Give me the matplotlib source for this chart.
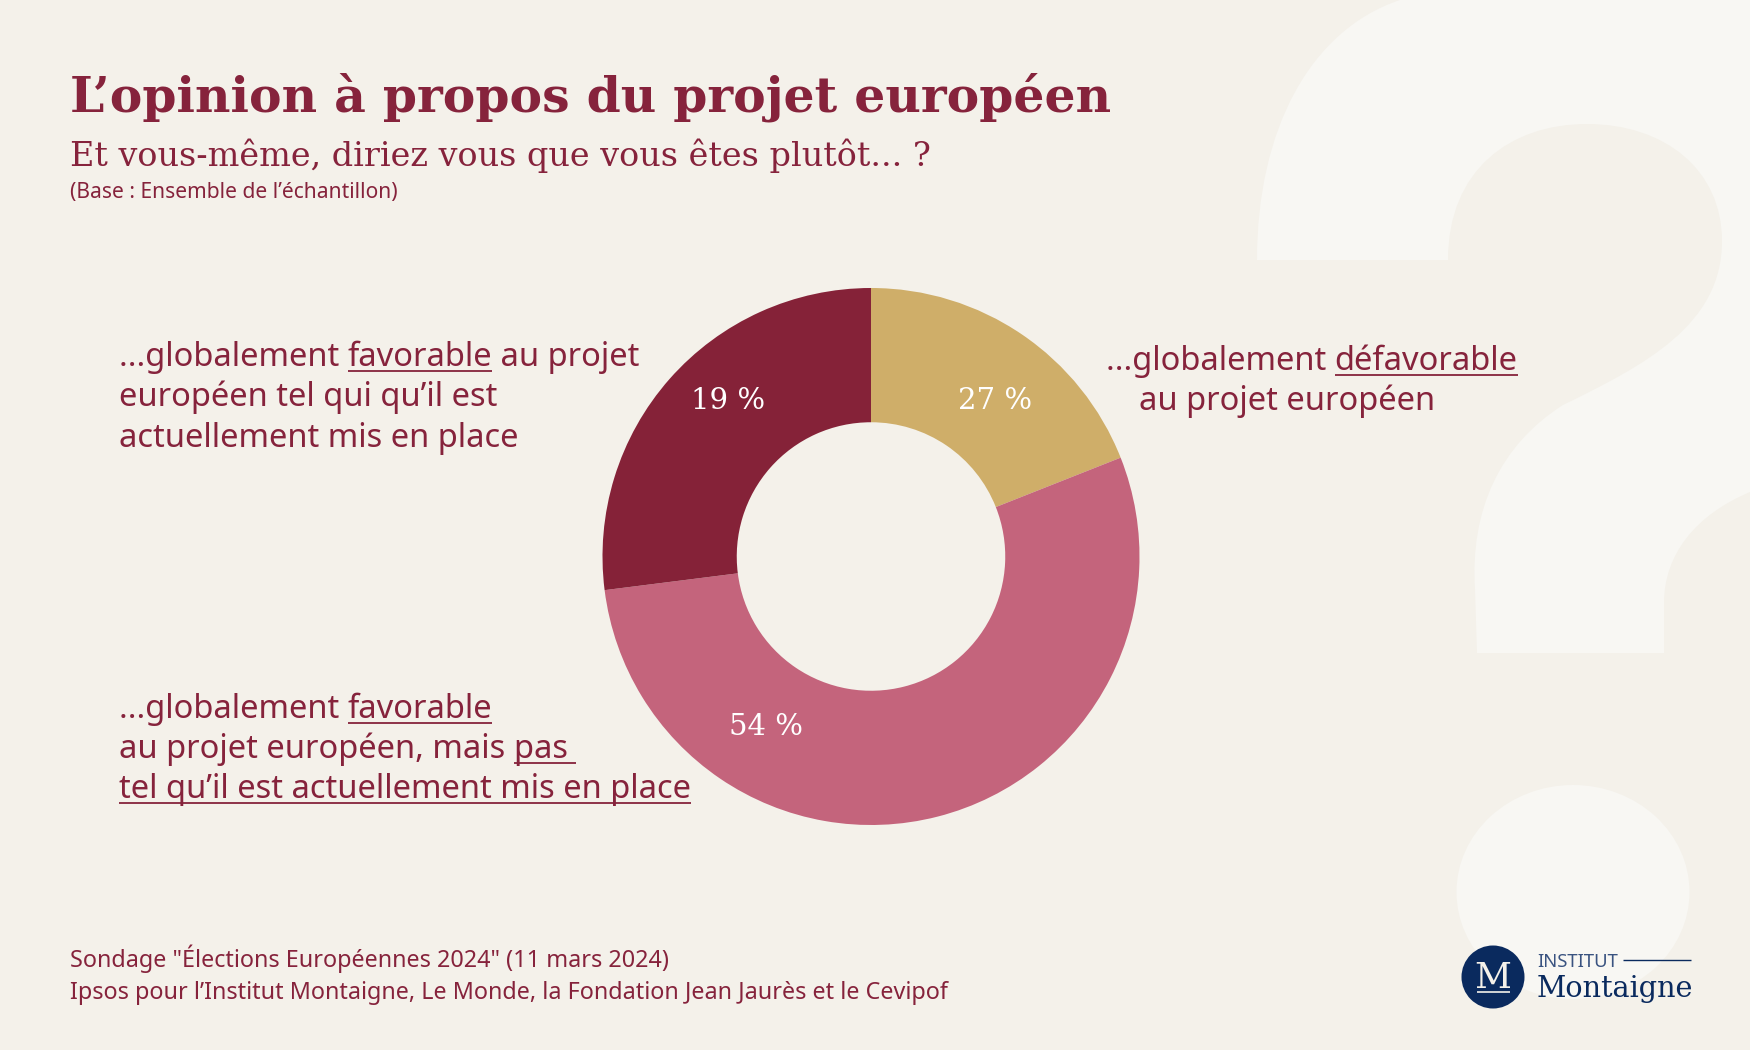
import matplotlib
matplotlib.use("Agg")
import matplotlib.pyplot as plt
from matplotlib.path import Path
from matplotlib.patches import PathPatch, Ellipse, Circle

# Data
opinions = ["favorable tel quel", "favorable mais pas tel quel", "defavorable"]
slice_values = [19, 54, 27]     # clockwise from 12 o'clock, as drawn in the source
slice_labels = ["27 %", "54 %", "19 %"]
slice_colors = ["#cfae69", "#c4647c", "#852238"]

BG = "#f4f1ea"
MARK = "#f8f7f3"
RED = "#86233c"
NAVY = "#0a2a5e"
SERIF = ["DejaVu Serif Condensed", "DejaVu Serif"]
SANS = ["Noto Sans", "DejaVu Sans"]

W, H = 1750, 1050
fig = plt.figure(figsize=(W / 100, H / 100), dpi=100, facecolor=BG)

# full figure axes in pixels for the decoration and the text
bg = fig.add_axes([0, 0, 1, 1])
bg.set_xlim(0, W)
bg.set_ylim(H, 0)
bg.axis("off")

# big question mark behind everything
verts = [(1400, 0),
         (1310, 30), (1257, 130), (1257, 260),
         (1448, 260),
         (1448, 170), (1510, 124), (1587, 124),
         (1665, 124), (1722, 170), (1722, 241),
         (1722, 325), (1645, 365), (1563, 405),
         (1500, 445), (1470, 510), (1475, 589),
         (1477, 653),
         (1664, 653),
         (1664, 603),
         (1664, 555), (1695, 515), (1750, 492),
         (1750, 0),
         (1400, 0)]
codes = [Path.MOVETO,
         Path.CURVE4, Path.CURVE4, Path.CURVE4,
         Path.LINETO,
         Path.CURVE4, Path.CURVE4, Path.CURVE4,
         Path.CURVE4, Path.CURVE4, Path.CURVE4,
         Path.CURVE4, Path.CURVE4, Path.CURVE4,
         Path.CURVE4, Path.CURVE4, Path.CURVE4,
         Path.LINETO,
         Path.LINETO,
         Path.LINETO,
         Path.CURVE4, Path.CURVE4, Path.CURVE4,
         Path.LINETO,
         Path.CLOSEPOLY]
bg.add_patch(PathPatch(Path(verts, codes), fc=MARK, ec="none"))
bg.add_patch(Ellipse((1573, 892), 233, 214, fc=MARK, ec="none"))

# donut
cx, cy, r = 871, 556.5, 268.5
ax = fig.add_axes([(cx - r) / W, 1 - (cy + r) / H, 2 * r / W, 2 * r / H])
ax.pie(slice_values, colors=slice_colors, startangle=90, counterclock=False,
       radius=1, wedgeprops={"width": 0.5, "linewidth": 0})
ax.set_xlim(-1, 1)
ax.set_ylim(-1, 1)

# text layer on top of the donut
tx = fig.add_axes([0, 0, 1, 1])
tx.set_xlim(0, W)
tx.set_ylim(H, 0)
tx.axis("off")
tx.patch.set_alpha(0)

renderer = fig.canvas.get_renderer()


def run_width(s, size):
    # trailing spaces get dropped when measuring, so wrap with dots
    a = tx.text(0, 0, "." + s + ".", fontsize=size, family=SANS)
    b = tx.text(0, 0, "..", fontsize=size, family=SANS)
    w = a.get_window_extent(renderer).width - b.get_window_extent(renderer).width
    a.remove()
    b.remove()
    return w


def runs(x, y, parts, size=23.52):
    # parts = list of (text, underlined)
    for s, under in parts:
        tx.text(x, y, s, fontsize=size, family=SANS, color=RED, va="baseline", ha="left")
        w = run_width(s, size)
        if under:
            tx.plot([x, x + w], [y + 4.5, y + 4.5], color=RED, lw=1.3, solid_capstyle="butt")
        x += w


# titles
tx.text(70, 111, "L’opinion à propos du projet européen", fontsize=35.2, family=SERIF,
        fontweight="bold", color=RED, va="baseline")
tx.text(70, 166, "Et vous-même, diriez vous que vous êtes plutôt... ?", fontsize=24.1, family=SERIF,
        color=RED, va="baseline")
tx.text(70, 198, "(Base : Ensemble de l’échantillon)", fontsize=15.1, family=SANS,
        color=RED, va="baseline")

# category labels
runs(119, 366, [("...globalement ", False), ("favorable", True), (" au projet", False)])
runs(119, 406, [("européen tel qui qu’il est", False)])
runs(119, 447, [("actuellement mis en place", False)])

runs(119, 718, [("...globalement ", False), ("favorable", True)])
runs(119, 758, [("au projet européen, mais ", False), ("pas ", True)])
runs(119, 798, [("tel qu’il est actuellement mis en place", True)])

runs(1106, 370, [("...globalement ", False), ("défavorable", True)])
runs(1139, 410, [("au projet européen", False)])

# values on the slices
label_pos = [(995, 401), (766, 727), (728, 401)]
for lab, (lx, ly) in zip(slice_labels, label_pos):
    tx.text(lx, ly, lab, fontsize=21, family=SERIF, color="white", ha="center", va="center")

# footer
tx.text(70, 967, "Sondage \"Élections Européennes 2024\" (11 mars 2024)", fontsize=16.82, family=SANS,
        color=RED, va="baseline")
tx.text(70, 999, "Ipsos pour l’Institut Montaigne, Le Monde, la Fondation Jean Jaurès et le Cevipof",
        fontsize=16.82, family=SANS, color=RED, va="baseline")

# logo
tx.add_patch(Circle((1493, 977), 31.5, fc=NAVY, ec="none"))
tx.text(1493, 988, "M", fontsize=26, family=SERIF, color="#f4f1ea", ha="center", va="baseline")
tx.plot([1477, 1510], [992, 992], color="#f4f1ea", lw=1.2, solid_capstyle="butt")
tx.text(1537, 967, "INSTITUT", fontsize=13.3, family=SANS, color="#3a5380", va="baseline")
tx.plot([1623, 1691], [960, 960], color=NAVY, lw=1.0, solid_capstyle="butt")
tx.text(1537, 997, "Montaigne", fontsize=20.7, family=SERIF, color=NAVY, va="baseline")

fig.savefig("out.png", dpi=100, facecolor=BG)
